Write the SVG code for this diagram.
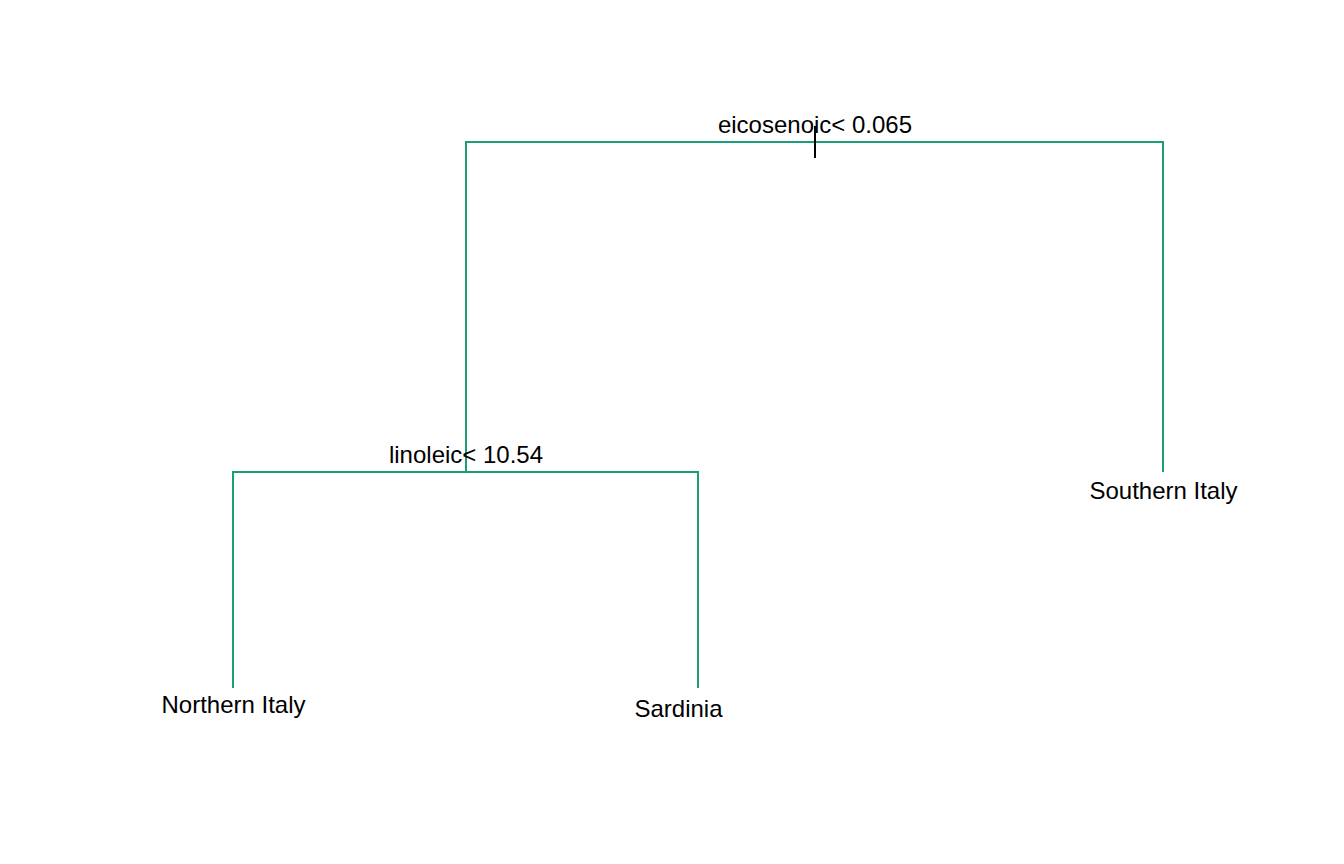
<svg xmlns="http://www.w3.org/2000/svg" width="1344" height="864" viewBox="0 0 1344 864">
<style>
.e{stroke:#1b9e77;stroke-width:2;fill:none;stroke-linecap:butt}
.t{font-family:"Liberation Sans",Arial,sans-serif;font-size:24px;fill:#000;text-anchor:middle}
</style>
<rect width="1344" height="864" fill="#fff"/>
<g id="connectors">
<path class="e" d="M466,472 V142 H1163 V472"/>
<path class="e" d="M233,688 V472 H698 V688"/>
<line x1="815" y1="126" x2="815" y2="158" stroke="#000" stroke-width="2"/>
</g>
<g id="n-root"><text class="t" x="815" y="133">eicosenoic&lt; 0.065</text></g>
<g id="n-linoleic"><text class="t" x="466" y="463">linoleic&lt; 10.54</text></g>
<g id="n-southern"><text class="t" x="1163.5" y="499">Southern Italy</text></g>
<g id="n-northern"><text class="t" x="233.5" y="713">Northern Italy</text></g>
<g id="n-sardinia"><text class="t" x="678.5" y="717">Sardinia</text></g>
</svg>
